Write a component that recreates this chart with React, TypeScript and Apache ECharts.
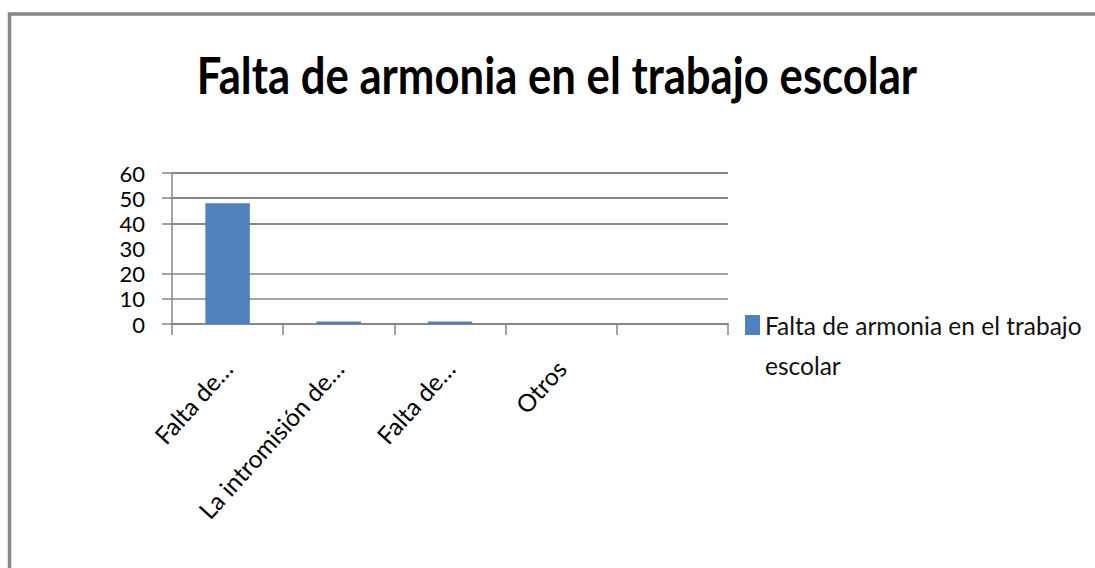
import React, { useEffect, useRef } from "react";
import * as echarts from "echarts";

const titleText = "Falta de armonia en el trabajo escolar";
const seriesName = "Falta de armonia en el trabajo escolar";
const categories = ["Falta de…", "La intromisión de…", "Falta de…", "Otros", ""];
const values: (number | null)[] = [48, 1, 1, 0, null];
const yTicks = [0, 10, 20, 30, 40, 50, 60];
const gridValues = [0, 10, 20, 40, 50, 60];

const FONT = "Lato, 'Open Sans', sans-serif";
const GRAY = "#868686";

export default function App() {
  const ref = useRef<HTMLDivElement>(null);
  useEffect(() => {
    if (!ref.current) return;
    const chart = echarts.init(ref.current, undefined, { renderer: "svg" });
    chart.setOption({
      animation: false,
      backgroundColor: "#ffffff",
      graphic: [
        {
          type: "rect",
          shape: { x: 9.5, y: 14, width: 1300, height: 800 },
          style: { fill: "none", stroke: "#878787", lineWidth: 3.5 },
          silent: true,
        },
        {
          type: "text",
          x: 557,
          y: 74,
          scaleX: 0.84,
          style: {
            text: titleText,
            font: `bold 52px ${FONT}`,
            fill: "#000000",
            align: "center",
            verticalAlign: "middle",
          },
        },
      ],
      legend: {
        left: 745,
        top: 265,
        padding: 0,
        icon: "rect",
        itemWidth: 15,
        itemHeight: 20,
        data: [seriesName],
        formatter: () => "\nFalta de armonia en el trabajo\nescolar",
        textStyle: { fontFamily: FONT, fontSize: 24.5, color: "#111111", lineHeight: 40 },
      },
      grid: { left: 172, right: 367, top: 173, bottom: 244, containLabel: false },
      xAxis: {
        type: "category",
        data: categories,
        axisLine: { show: true, lineStyle: { color: GRAY, width: 2 } },
        axisTick: { show: true, length: 11, lineStyle: { color: GRAY, width: 1.5 } },
        axisLabel: {
          interval: 0,
          rotate: 48,
          margin: 40,
          fontFamily: FONT,
          fontSize: 24.5,
          color: "#000000",
        },
        splitLine: { show: false },
      },
      yAxis: {
        type: "value",
        min: 0,
        max: 60,
        interval: 10,
        axisLine: { show: true, lineStyle: { color: GRAY, width: 1.5 } },
        axisTick: { show: true, length: 10, customValues: gridValues, lineStyle: { color: GRAY, width: 1.5 } },
        axisLabel: {
          customValues: yTicks,
          margin: 27,
          fontFamily: FONT,
          fontSize: 22,
          color: "#000000",
        },
        splitLine: { show: false },
      },
      series: [
        {
          name: seriesName,
          type: "bar",
          data: values,
          barWidth: "40%",
          z: 2,
          itemStyle: { color: "#4F81BD" },
          markLine: {
            z: 1,
            silent: true,
            symbol: "none",
            label: { show: false },
            data: gridValues
              .filter((v) => v !== 0)
              .map((v) => ({
                yAxis: v,
                lineStyle: { color: GRAY, type: "solid", width: v >= 40 ? 2 : 1.5 },
              })),
          },
        },
      ],
    });
    return () => chart.dispose();
  }, []);
  return (
    <div
      ref={ref}
      style={{ position: "fixed", left: 0, top: 0, width: 1095, height: 568 }}
    />
  );
}
